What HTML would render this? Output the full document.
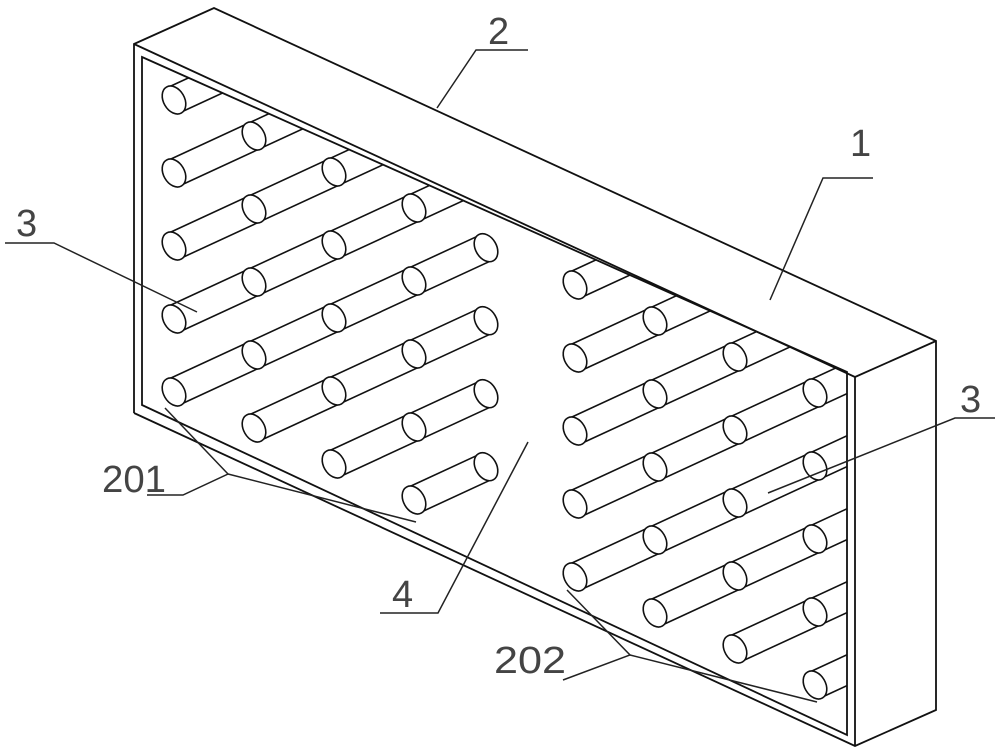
<!DOCTYPE html>
<html><head><meta charset="utf-8"><style>
html,body{margin:0;padding:0;background:#fff;}
svg{display:block;}
text{font-family:"Liberation Sans",sans-serif;font-size:38px;fill:#444;font-weight:normal;}
</style></head><body>
<svg id="s" width="1000" height="753" viewBox="0 0 1000 753" xmlns="http://www.w3.org/2000/svg">
<defs>
<clipPath id="inner"><polygon points="142,57 847,372 847,735 142,405"/></clipPath>
</defs>
<g id="tubes" clip-path="url(#inner)" stroke="#111" stroke-width="1.6" fill="#fff"></g>
<g fill="none" stroke="#111" stroke-width="1.8">
<polyline points="134,413 134,44 214,8 936,341 936,710 855,746 134,413"/>
<polyline points="134,44 855,377 855,746"/>
<polyline points="855,377 936,341"/>
<polygon points="142,57 847,372 847,735 142,405"/>
</g>
<g fill="none" stroke="#222" stroke-width="1.5">
<polyline points="528,50 476,50 437,108"/>
<polyline points="873,178 823,178 770,300"/>
<polyline points="5,243 54,243 197,312"/>
<polyline points="995,418 955,418 768,493"/>
<polyline points="147,495 183,495 228,474 165,408"/>
<polyline points="228,474 416,522"/>
<polyline points="380,613 438,613 528,442"/>
<polyline points="563,680 630,655 567,590"/>
<polyline points="630,655 817,702"/>
</g>
<text x="488" y="44">2</text>
<text x="850" y="156">1</text>
<text x="16" y="236">3</text>
<text x="960" y="412">3</text>
<text x="102" y="492" textLength="64" lengthAdjust="spacingAndGlyphs">201</text>
<text x="392" y="607">4</text>
<text x="494" y="673" textLength="72" lengthAdjust="spacingAndGlyphs">202</text>
</svg>
<script>
(function(){
var NS="http://www.w3.org/2000/svg";
var g=document.getElementById("tubes");
var px=0.45,py=0.893,R=14;
function pt(base,c,r){return [base[0]+80*c,base[1]+73*r-37*c];}
function el(tag,attrs){var e=document.createElementNS(NS,tag);for(var k in attrs)e.setAttribute(k,attrs[k]);g.appendChild(e);return e;}
function ell(p){el("ellipse",{cx:p[0],cy:p[1],rx:15,ry:10.5,transform:"rotate(60 "+p[0]+" "+p[1]+")"});}
function tube(base,r,c0,c1,endc){
  var a=pt(base,c0,r), b=pt(base,endc,r);
  var pts=[[a[0]-px*R,a[1]-py*R],[b[0]-px*R,b[1]-py*R],[b[0]+px*R,b[1]+py*R],[a[0]+px*R,a[1]+py*R]];
  el("polygon",{points:pts.map(function(q){return q.join(",")}).join(" "),stroke:"none"});
  el("line",{x1:pts[0][0],y1:pts[0][1],x2:pts[1][0],y2:pts[1][1]});
  el("line",{x1:pts[3][0],y1:pts[3][1],x2:pts[2][0],y2:pts[2][1]});
  if(endc<5) ell(b);
  for(var c=c1;c>=c0;c--) ell(pt(base,c,r));
}
var L=[174,100], Rb=[575,285];
tube(L,0,0,0,6);
tube(L,1,0,1,6);
tube(L,2,0,2,6);
tube(L,3,0,3,6);
tube(L,4,0,3,3.9);
tube(L,5,1,3,3.9);
tube(L,6,2,3,3.9);
tube(L,7,3,3,3.9);
tube(Rb,0,0,0,6);
tube(Rb,1,0,1,6);
tube(Rb,2,0,2,6);
tube(Rb,3,0,3,6);
tube(Rb,4,0,3,6);
tube(Rb,5,1,3,6);
tube(Rb,6,2,3,6);
tube(Rb,7,3,3,6);
})();
</script>
</body></html>
